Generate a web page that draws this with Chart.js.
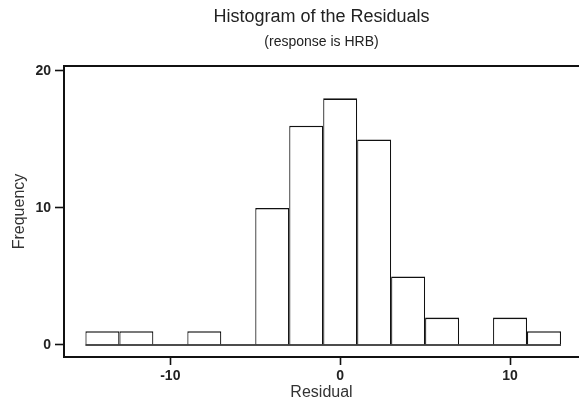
<!DOCTYPE html>
<html>
<head>
<meta charset="utf-8">
<script src="https://cdn.jsdelivr.net/npm/chart.js@4/dist/chart.umd.min.js"></script>
<style>
  html, body { margin: 0; padding: 0; background: #fff; }
  #wrap { width: 579px; height: 408px; }
</style>
</head>
<body>
<div id="wrap"><canvas id="chart" width="579" height="408"></canvas></div>
<script>
// Residual bins (centre of each bin, bin width 2) and their counts
const binCenters = [-14, -12, -10, -8, -6, -4, -2, 0, 2, 4, 6, 8, 10, 12];
const frequencies = [1, 1, 0, 1, 0, 10, 16, 18, 15, 5, 2, 0, 2, 1];
const binWidth = 2;

// Axis ticks
const xTickValues = [-10, 0, 10];
const yTickValues = [0, 10, 20];

const barData = binCenters.map((c, i) => ({ x: c, y: frequencies[i] }));
// Baseline under the bins, running from the first bin edge to the last
const baseline = [
  { x: binCenters[0] - binWidth / 2, y: 0 },
  { x: binCenters[binCenters.length - 1] + binWidth / 2, y: 0 }
];

const textColor = '#222';
const tickFont = { family: "'Liberation Sans Narrow', 'Liberation Sans', Arial, sans-serif", size: 14, weight: 'bold' };

new Chart(document.getElementById('chart'), {
  type: 'bar',
  data: {
    datasets: [
      {
        type: 'bar',
        data: barData,
        backgroundColor: '#ffffff',
        borderColor: '#111',
        // side borders are narrower so neighbouring bins share one line
        borderWidth: { top: 1.6, left: 1.2, right: 1.2, bottom: 0 },
        borderSkipped: false,
        inflateAmount: 0,
        barPercentage: 1,
        categoryPercentage: 1,
        order: 2
      },
      {
        type: 'line',
        data: baseline,
        borderColor: '#111',
        borderWidth: 1.6,
        pointRadius: 0,
        fill: false,
        order: 1
      }
    ]
  },
  options: {
    responsive: false,
    animation: false,
    events: [],
    layout: { padding: { left: 0, right: 0, top: 0, bottom: 0 } },
    plugins: {
      legend: { display: false },
      tooltip: { enabled: false },
      title: {
        display: true,
        text: 'Histogram of the Residuals',
        fullSize: false,
        color: textColor,
        font: { family: "'Liberation Sans', Arial, sans-serif", size: 18, weight: 'normal' },
        padding: { top: 6, bottom: 4 }
      },
      subtitle: {
        display: true,
        text: '(response is HRB)',
        fullSize: false,
        color: textColor,
        font: { family: "'Liberation Sans', Arial, sans-serif", size: 14, weight: 'normal' },
        padding: { top: 2, bottom: 15.6 }
      }
    },
    scales: {
      x: {
        type: 'linear',
        position: 'bottom',
        offset: false,
        min: -16.26,
        max: 14.06,
        afterBuildTicks: s => { s.ticks = xTickValues.map(v => ({ value: v })); },
        afterFit: s => { s.height = 51; },
        grid: { offset: false, drawOnChartArea: false, drawTicks: true, tickLength: 8, tickWidth: 1.6, tickColor: '#111' },
        border: { display: true, color: '#111', width: 2 },
        ticks: { color: textColor, font: tickFont, padding: 3, maxRotation: 0 },
        title: {
          display: true,
          text: 'Residual',
          color: '#333',
          font: { family: "'Liberation Sans', Arial, sans-serif", size: 16 },
          padding: { top: 0, bottom: 6 }
        }
      },
      xTop: {
        type: 'linear',
        position: 'top',
        offset: false,
        min: -16.26,
        max: 14.06,
        grid: { offset: false, drawOnChartArea: false, drawTicks: false },
        border: { display: true, color: '#111', width: 2 },
        ticks: { display: false },
        afterFit: s => { s.height = 0; }
      },
      y: {
        type: 'linear',
        min: -0.88,
        max: 20.36,
        afterBuildTicks: s => { s.ticks = yTickValues.map(v => ({ value: v })); },
        afterFit: s => { s.width = 64; },
        grid: { drawOnChartArea: false, drawTicks: true, tickLength: 9, tickWidth: 1.6, tickColor: '#111' },
        border: { display: true, color: '#111', width: 2 },
        ticks: { color: textColor, font: tickFont, padding: 4 },
        title: {
          display: true,
          text: 'Frequency',
          color: '#333',
          font: { family: "'Liberation Sans', Arial, sans-serif", size: 16 },
          padding: { top: 10, bottom: 0 }
        }
      }
    }
  }
});
</script>
</body>
</html>
